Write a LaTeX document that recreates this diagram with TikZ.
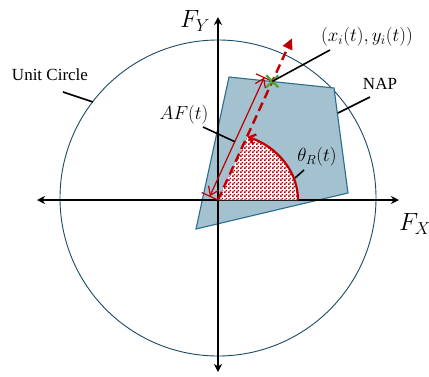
\documentclass[tikz,border=0pt]{standalone}
\usepackage{amsmath}
\usepackage{fontspec}
\setmainfont{Liberation Serif}
\usetikzlibrary{
  arrows.meta,
  calc,
  patterns
}
\definecolor{napfill}{HTML}{A3C1CF}
\definecolor{napedge}{HTML}{2B6D8C}
\definecolor{ucircle}{HTML}{1B4A66}
\definecolor{afred}{HTML}{C00000}
\definecolor{ptgreen}{HTML}{4EA72E}

% fine checkerboard (2pt squares)
\pgfdeclarepatternformonly{finecheck}{\pgfpointorigin}{\pgfqpoint{4pt}{4pt}}{\pgfqpoint{4pt}{4pt}}{%
  \pgfpathrectangle{\pgfpointorigin}{\pgfqpoint{2pt}{2pt}}%
  \pgfpathrectangle{\pgfqpoint{2pt}{2pt}}{\pgfqpoint{2pt}{2pt}}%
  \pgfusepath{fill}}

\begin{document}
\begin{tikzpicture}[
  x=1pt, y=1pt,
  every node/.style={font=\fontsize{17}{20}\selectfont, inner sep=0pt},
  axis/.style={line width=1.4pt, {Stealth[length=8pt,width=8pt,inset=2.5pt]}-{Stealth[length=8pt,width=8pt,inset=2.5pt]}},
  leader/.style={line width=1.6pt, black},
  dimred/.style={afred, line width=1.2pt},
  mathlabel/.style={scale=1.1},
  biglabel/.style={font=\fontsize{25}{28}\selectfont}
]
  \useasboundingbox (-218,-176) rectangle (211,200);

  % Unit circle
  \draw[ucircle, line width=0.9pt] (0,2) circle (158);

  % NAP polygon
  \draw[napedge, fill=napfill, line width=1.1pt]
    (11,123) -- (116,112) -- (130,7) -- (-22,-29) -- cycle;

  % Axes
  \coordinate (O) at (0,0);
  \coordinate (xl) at (-181,0);
  \coordinate (xr) at (181,0);
  \coordinate (yb) at (0,-172);
  \coordinate (yt) at (0,183);
  \draw[axis] (xl) -- (xr);
  \draw[axis] (yb) -- (yt);

  % Sector theta_R
  \fill[white] (O) -- (80,0) arc[start angle=0, end angle=68.4, x radius=80, y radius=68] -- cycle;
  \fill[pattern=finecheck, pattern color=afred]
    (O) -- (80,0) arc[start angle=0, end angle=68.4, x radius=80, y radius=68] -- cycle;
  \draw[afred, line width=2.2pt, -{Straight Barb[length=6pt,width=10pt]}]
    (80,0) arc[start angle=0, end angle=68.4, x radius=80, y radius=68];

  % Dashed ray
  \coordinate (tip) at (65.4:178);
  \coordinate (xi) at (65.4:130.5);
  \draw[afred, line width=2.4pt, dash pattern=on 9pt off 5pt, -{Triangle[length=11pt,width=10pt]}]
    (O) -- (tip);

  % AF(t) dimension
  \coordinate (d0) at ($(O)+(155.4:9)$);
  \coordinate (d1) at ($(xi)+(155.4:9)$);
  \draw[dimred, {Straight Barb[length=8pt,width=11pt]}-{Straight Barb[length=8pt,width=11pt]}] (d0) -- (d1);
  \draw[dimred] (O) -- ($(O)+(155.4:18)$);
  \draw[dimred] (xi) -- ($(xi)+(155.4:18)$);

  % Green cross
  \draw[ptgreen, line width=2.2pt]
    ($(xi)+(-6,-6)$) -- ($(xi)+(6,6)$)
    ($(xi)+(-6,6)$) -- ($(xi)+(6,-6)$);

  % Labels
  \node[biglabel] (fy) at (-23,179) {$F_Y$};
  \node[biglabel] (fx) at (197,-24) {$F_X$};
  \node (uc) at (-168,125) {Unit Circle};
  \node (nap) at (162,116) {NAP};
  \node[mathlabel] (ptlab) at (149,163) {$(x_i(t),y_i(t))$};
  \node[mathlabel] (aflab) at (-34,85) {$AF(t)$};
  \node[mathlabel] (thlab) at (99,43) {$\theta_R(t)$};

  % Leaders
  \coordinate (ucA) at (-155,108);
  \coordinate (ucB) at (-125,98);
  \coordinate (napA) at (152,103);
  \coordinate (napB) at (120,87);
  \coordinate (ptA) at (112,150);
  \coordinate (afA) at (-15,73);
  \coordinate (thA) at (86,30);
  \coordinate (thB) at (77,22);
  \draw[leader] (ucA) -- (ucB);
  \draw[leader] (napA) -- (napB);
  \draw[leader] (ptA) -- (xi);
  \draw[leader] (afA) -- ($(d0)!0.46!(d1)$);
  \draw[leader] (thA) -- (thB);
\end{tikzpicture}
\end{document}
